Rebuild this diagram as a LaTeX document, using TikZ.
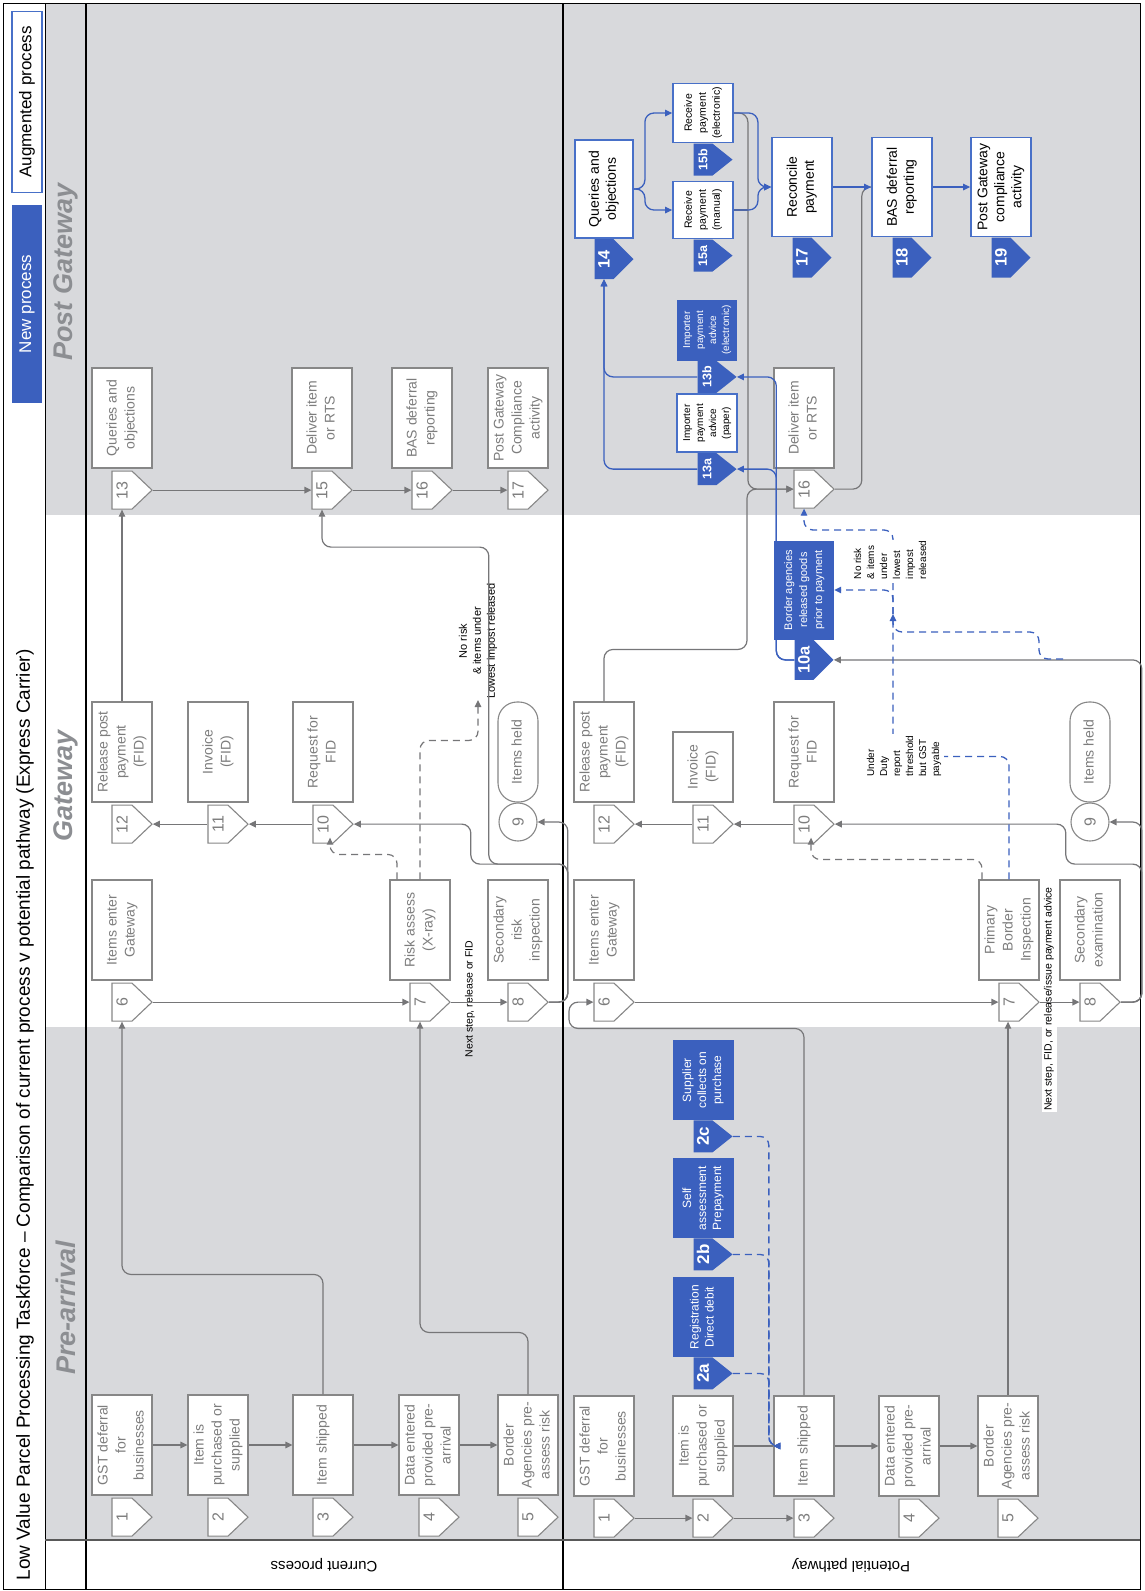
\documentclass[tikz,border=0pt]{standalone}
\usepackage{fontspec}
\setmainfont{Liberation Sans}
\usepackage{graphicx}
\usetikzlibrary{arrows.meta,shapes.symbols,positioning,calc}
\definecolor{newblue}{RGB}{59,96,190}
\definecolor{augblue}{RGB}{72,112,200}
\definecolor{bandgray}{RGB}{216,217,220}
\definecolor{boxgray}{RGB}{135,135,135}
\definecolor{txtgray}{RGB}{125,125,125}
\definecolor{flowgray}{RGB}{118,118,120}
\definecolor{headgray}{RGB}{140,142,146}
\newcommand{\vt}[1]{\rotatebox{90}{\begin{tabular}{@{}c@{}}#1\end{tabular}}}
\newcommand{\vtl}[1]{\rotatebox{90}{\begin{tabular}{@{}l@{}}#1\end{tabular}}}
\begin{document}
\begin{tikzpicture}[x=1pt,y=-1pt,>={Triangle[length=7pt,width=6.5pt]},
  curbox/.style={draw=boxgray,line width=1.1pt,fill=white,text=txtgray,minimum width=60pt,minimum height=100pt,inner sep=0pt,font=\fontsize{14}{18}\selectfont},
  augbox/.style={draw=augblue,line width=1.8pt,fill=white,text=black,minimum width=60pt,minimum height=99pt,inner sep=0pt,font=\fontsize{14}{17}\selectfont},
  newbox/.style={fill=newblue,text=white,minimum width=61pt,minimum height=80pt,inner sep=0pt,font=\fontsize{12}{15}\selectfont},
  curtag/.style={shape=signal,signal from=nowhere,signal to=east,signal pointer angle=87,draw=boxgray,line width=1.1pt,fill=white,text=txtgray,minimum width=40pt,minimum height=38pt,inner sep=0pt,font=\fontsize{16}{16}\selectfont},
  newtag/.style={shape=signal,signal from=nowhere,signal to=east,signal pointer angle=90,fill=newblue,text=white,minimum width=39pt,minimum height=40pt,inner sep=0pt,font=\bfseries\fontsize{16.5}{17}\selectfont},
  smalltag/.style={newtag,signal pointer angle=77,minimum height=32pt,font=\bfseries\fontsize{12.5}{13}\selectfont},
  flow/.style={color=flowgray,line width=1.2pt,rounded corners=9pt,->},
  gline/.style={color=flowgray,line width=1.2pt,rounded corners=9pt},
  dflow/.style={flow,dash pattern=on 7pt off 5pt},
  bflow/.style={color=newblue,line width=1.3pt,rounded corners=9pt,->},
  bdflow/.style={bflow,dash pattern=on 7pt off 5pt},
  bdline/.style={color=newblue,line width=1.3pt,rounded corners=9pt,dash pattern=on 7pt off 5pt},
  lbl/.style={text=black,inner sep=1pt,font=\fontsize{10.5}{13}\selectfont},
  phase/.style={text=headgray,font=\bfseries\itshape\fontsize{27}{27}\selectfont}]
  \useasboundingbox (0,0) rectangle (1144,1591);
  \fill[white] (0,0) rectangle (1144,1591);
  \fill[bandgray] (45,3) rectangle (1140,515);
  \fill[bandgray] (45,1027) rectangle (1140,1540);
  \draw[line width=1pt] (3,3) rectangle (1140,1589);
  \draw[line width=1pt] (45,3) -- (45,1589);
  \draw[line width=2pt] (86,3) -- (86,1589);
  \draw[line width=2pt] (563,3) -- (563,1589);
  \draw[line width=2pt,black!65] (45,1540) -- (1140,1540);

  % title, legend, phases, rows
  \node[anchor=south,font=\fontsize{19}{19}\selectfont] (title) at (25,1584) {\rotatebox{90}{Low Value Parcel Processing Taskforce \textendash{} Comparison of current process v potential pathway (Express Carrier)}};
  \node[draw=augblue,line width=1.2pt,fill=white,minimum width=30pt,minimum height=181pt,inner sep=0pt,font=\fontsize{17}{17}\selectfont] (legaug) at (27,102) {\rotatebox{90}{Augmented process}};
  \node[fill=newblue,text=white,minimum width=30pt,minimum height=198pt,inner sep=0pt,font=\fontsize{17}{17}\selectfont] (legnew) at (27,304) {\rotatebox{90}{New process}};
  \node[phase] (hpost) at (66,272) {\rotatebox{90}{Post Gateway}};
  \node[phase] (hgate) at (66,786) {\rotatebox{90}{Gateway}};
  \node[phase] (hpre) at (66,1308) {\rotatebox{90}{Pre-arrival}};
  \node[font=\fontsize{15}{15}\selectfont] (rowcur) at (324,1565) {\rotatebox{180}{Current process}};
  \node[font=\fontsize{15}{15}\selectfont] (rowpot) at (851,1565) {\rotatebox{180}{Potential pathway}};

  % current process
  \node[curbox] (c1) at (122,1445) {\vt{GST deferral\\for\\businesses}};
  \node[curbox] (c2) at (218,1445) {\vt{Item is\\purchased or\\supplied}};
  \node[curbox] (c3) at (323,1445) {\vt{Item shipped}};
  \node[curbox] (c4) at (429,1445) {\vt{Data entered\\provided pre-\\arrival}};
  \node[curbox] (c5) at (528,1445) {\vt{Border\\Agencies pre-\\assess risk}};
  \node[curbox] (c6) at (122,930) {\vt{Items enter\\Gateway}};
  \node[curbox] (c7) at (420,930) {\vt{Risk assess\\(X-ray)}};
  \node[curbox] (c8) at (518,930) {\vt{Secondary\\risk\\inspection}};
  \node[curbox] (c12) at (122,752) {\vt{Release post\\payment\\(FID)}};
  \node[curbox] (c11) at (218,752) {\vt{Invoice\\(FID)}};
  \node[curbox] (c10) at (323,752) {\vt{Request for\\FID}};
  \node[curbox,minimum width=40pt,rounded corners=19pt] (chold) at (518,752) {\vt{Items held}};
  \node[curbox,circle,minimum width=38pt,minimum height=38pt,font=\fontsize{16}{16}\selectfont] (c9) at (518,822) {\rotatebox{90}{9}};
  \node[curbox] (c13) at (122,418) {\vt{Queries and\\objections}};
  \node[curbox] (c15) at (322,418) {\vt{Deliver item\\or RTS}};
  \node[curbox] (c16) at (422,418) {\vt{BAS deferral\\reporting}};
  \node[curbox] (c17) at (518,418) {\vt{Post Gateway\\Compliance\\activity}};
  \node[curtag,below=2pt of c1] (t1) {\rotatebox{90}{1}};
  \node[curtag,below=2pt of c2] (t2) {\rotatebox{90}{2}};
  \node[curtag,below=2pt of c3] (t3) {\rotatebox{90}{3}};
  \node[curtag,below=2pt of c4] (t4) {\rotatebox{90}{4}};
  \node[curtag,below=2pt of c5] (t5) {\rotatebox{90}{5}};
  \node[curtag,below=2pt of c6] (t6) {\rotatebox{90}{6}};
  \node[curtag,below=2pt of c7] (t7) {\rotatebox{90}{7}};
  \node[curtag,below=2pt of c8] (t8) {\rotatebox{90}{8}};
  \node[curtag,below=2pt of c10] (t10) {\rotatebox{90}{10}};
  \node[curtag,below=2pt of c11] (t11) {\rotatebox{90}{11}};
  \node[curtag,below=2pt of c12] (t12) {\rotatebox{90}{12}};
  \node[curtag,below=2pt of c13] (t13) {\rotatebox{90}{13}};
  \node[curtag,below=2pt of c15] (t15) {\rotatebox{90}{15}};
  \node[curtag,below=2pt of c16] (t16) {\rotatebox{90}{16}};
  \node[curtag,below=2pt of c17] (t17) {\rotatebox{90}{17}};

  % potential pathway
  \node[curbox] (p1) at (604,1446) {\vt{GST deferral\\for\\businesses}};
  \node[curbox] (p2) at (703,1446) {\vt{Item is\\purchased or\\supplied}};
  \node[curbox] (p3) at (804,1446) {\vt{Item shipped}};
  \node[curbox] (p4) at (909,1446) {\vt{Data entered\\provided pre-\\arrival}};
  \node[curbox] (p5) at (1008,1446) {\vt{Border\\Agencies pre-\\assess risk}};
  \node[newbox] (p2a) at (703,1317) {\vt{Registration\\Direct debit}};
  \node[newbox] (p2b) at (703,1198) {\vt{Self\\assessment\\Prepayment}};
  \node[newbox] (p2c) at (703,1080) {\vt{Supplier\\collects on\\purchase}};
  \node[curbox] (p6) at (604,930) {\vt{Items enter\\Gateway}};
  \node[curbox] (p7) at (1009,930) {\vt{Primary\\Border\\Inspection}};
  \node[curbox] (p8) at (1090,930) {\vt{Secondary\\examination}};
  \node[curbox] (p12) at (604,752) {\vt{Release post\\payment\\(FID)}};
  \node[curbox,minimum height=70pt] (p11) at (703,767) {\vt{Invoice\\(FID)}};
  \node[curbox] (p10) at (804,752) {\vt{Request for\\FID}};
  \node[curbox,minimum width=40pt,rounded corners=19pt] (phold) at (1090,752) {\vt{Items held}};
  \node[curbox,circle,minimum width=38pt,minimum height=38pt,font=\fontsize{16}{16}\selectfont] (p9) at (1090,822) {\rotatebox{90}{9}};
  \node[newbox,minimum width=60pt,minimum height=99pt,font=\fontsize{11}{15}\selectfont] (p10a) at (804,590) {\vt{Border agencies\\released goods\\prior to payment}};
  \node[curbox] (p16) at (804,418) {\vt{Deliver item\\or RTS}};
  \node[augbox,minimum height=58pt,font=\fontsize{10}{13}\selectfont] (p13a) at (707,423) {\vt{Importer\\payment\\advice\\(paper)}};
  \node[newbox,minimum width=60pt,minimum height=61pt,font=\fontsize{10}{13}\selectfont] (p13b) at (707,330) {\vt{Importer\\payment\\advice\\(electronic)}};
  \node[augbox,minimum width=58pt,minimum height=98pt] (p14) at (604,189) {\vt{Queries and\\objections}};
  \node[augbox,minimum height=59pt,font=\fontsize{10.5}{14}\selectfont] (p15b) at (703,113) {\vt{Receive\\payment\\(electronic)}};
  \node[augbox,minimum height=57pt,font=\fontsize{10.5}{14}\selectfont] (p15a) at (703,210) {\vt{Receive\\payment\\(manual)}};
  \node[augbox] (p17) at (802,187) {\vt{Reconcile\\payment}};
  \node[augbox] (p18) at (902,187) {\vt{BAS deferral\\reporting}};
  \node[augbox] (p19) at (1001,187) {\vt{Post Gateway\\compliance\\activity}};
  \node[curtag,below=2pt of p1] (pt1) {\rotatebox{90}{1}};
  \node[curtag,below=2pt of p2] (pt2) {\rotatebox{90}{2}};
  \node[curtag,below=2pt of p3] (pt3) {\rotatebox{90}{3}};
  \node[curtag,below=2pt of p4] (pt4) {\rotatebox{90}{4}};
  \node[curtag,below=2pt of p5] (pt5) {\rotatebox{90}{5}};
  \node[curtag,below=2pt of p6] (pt6) {\rotatebox{90}{6}};
  \node[curtag,below=2pt of p7] (pt7) {\rotatebox{90}{7}};
  \node[curtag,below=2pt of p8] (pt8) {\rotatebox{90}{8}};
  \node[curtag,below=2pt of p10] (pt10) {\rotatebox{90}{10}};
  \node[curtag,below=2pt of p11] (pt11) {\rotatebox{90}{11}};
  \node[curtag,below=2pt of p12] (pt12) {\rotatebox{90}{12}};
  \node[curtag,below=1pt of p16] (pt16) {\rotatebox{90}{16}};
  \node[smalltag,below=0pt of p2a,font=\bfseries\fontsize{17}{17}\selectfont] (pt2a) {\rotatebox{90}{2a}};
  \node[smalltag,below=0pt of p2b,font=\bfseries\fontsize{17}{17}\selectfont] (pt2b) {\rotatebox{90}{2b}};
  \node[smalltag,below=0pt of p2c,font=\bfseries\fontsize{17}{17}\selectfont] (pt2c) {\rotatebox{90}{2c}};
  \node[newtag,below=0pt of p10a] (pt10a) {\rotatebox{90}{10a}};
  \node[smalltag,below=0pt of p13a] (pt13a) {\rotatebox{90}{13a}};
  \node[smalltag,below=0pt of p13b] (pt13b) {\rotatebox{90}{13b}};
  \node[newtag,below=0pt of p14] (pt14) {\rotatebox{90}{14}};
  \node[smalltag,below=0pt of p15b] (pt15b) {\rotatebox{90}{15b}};
  \node[smalltag,below=0pt of p15a] (pt15a) {\rotatebox{90}{15a}};
  \node[newtag,below=0pt of p17] (pt17) {\rotatebox{90}{17}};
  \node[newtag,below=0pt of p18] (pt18) {\rotatebox{90}{18}};
  \node[newtag,below=0pt of p19] (pt19) {\rotatebox{90}{19}};

  % labels under the lines
  \node[lbl] (cnext) at (470,999) {\vt{Next step, release or FID}};
  \node[lbl,fill=white] (pnext) at (1049,999) {\vt{Next step, FID, or release/issue payment advice}};
  \node[lbl,anchor=south,font=\fontsize{11}{14}\selectfont] (nrisk) at (478,700) {\vt{No risk\\\& items under\\Lowest impost released}};

  % current process flows
  \draw[flow] (c1) -- (c2);
  \draw[flow] (c2) -- (c3);
  \draw[flow] (c3) -- (c4);
  \draw[flow] (c4) -- (c5);
  \draw[flow] (c3.north) -- ++(0,-120) -| (t6.south);
  \draw[flow] (c5.north) -- ++(0,-62) -| (t7.south);
  \draw[flow] (t6.east) -- (t7.west);
  \draw[flow] (t7.east) -- (t8.west);
  \draw[flow] (t8.east) -- ++(19,0) |- (c9.east);
  \draw[flow] (t8.east) -- ++(19,0) -- ++(0,-138) -- ++(-97,0) |- (t10.east);
  \draw[flow] (t8.east) -- ++(19,0) -- ++(0,-138) -- ++(-79,0) -- ++(0,-317) -| (t15.south);
  \draw[flow] (t10.west) -- (t11.east);
  \draw[flow] (t11.west) -- (t12.east);
  \draw[flow] (c12.north) -- (t13.south);
  \draw[flow] (t13.east) -- (t15.west);
  \draw[flow] (t15.east) -- (t16.west);
  \draw[flow] (t16.east) -- (t17.west);
  \draw[dflow] ([xshift=-23pt]c7.north) -- ++(0,-25) -| ([xshift=7pt,yshift=6pt]t10.south);
  \draw[dflow] (c7.north) -- ++(0,-139) -| (nrisk.south);

  % potential pathway flows
  \draw[flow] (pt1.east) -- (pt2.west);
  \draw[flow] (pt2.east) -- (pt3.west);
  \draw[gline] (p2) -- (p3);
  \draw[flow] (p3) -- (p4);
  \draw[flow] (p4) -- (p5);
  \draw[bdflow] (pt2c.east) -- ++(36,0) |- (p3.west);
  \draw[bdflow] (pt2b.east) -- ++(36,0) |- (p3.west);
  \draw[bdflow] (pt2a.east) -- ++(36,0) |- (p3.west);
  \draw[flow] (p3.north) -- ++(0,-367) -- ++(-235,0) |- (pt6.west);
  \draw[flow] (p5.north) -- (p5.north |- pt7.south);
  \draw[flow] (pt6.east) -- (pt7.west);
  \draw[flow] (pt7.east) -- (pt8.west);
  \draw[flow] (pt8.east) -- ++(21,0) |- (p9.east);
  \draw[flow] (pt8.east) -- ++(21,0) -- ++(0,-138) -- ++(-76,0) |- (pt10.east);
  \draw[flow] (pt8.east) -- ++(21,0) |- (pt10a.east);
  \draw[flow] (pt10.west) -- (pt11.east);
  \draw[flow] (pt11.west) -- (pt12.east);
  \draw[flow] (p12.north) -- ++(0,-52) -- ++(143,0) |- (pt16.west);
  \draw[flow] (p15b.east) -- ++(14,0) |- (pt16.west);
  \draw[gline] (p15a.east) -- ++(14,0);
  \draw[gline] (pt16.east) -- ++(27,0) |- (p18.west);
  \draw[dflow] ([xshift=-27pt]p7.north) -- ++(0,-20) -| ([xshift=7pt,yshift=6pt]pt10.south);
  \coordinate (bjoin) at (893,614);
  \coordinate (bsplit) at (1063,659);
  \draw[bdflow] (p7.north) -- ++(0,-123) -| (bjoin);
  \draw[bdline] (bsplit) -- ++(-24,0) -- ++(0,-27) -| (bjoin);
  \draw[bdflow] (bjoin) |- (p10a.east);
  \draw[bdflow] (bjoin) -- ++(0,-84) -| (pt16.south);
  \draw[bflow] (pt10a.west) -- ++(-18,0) |- (pt13a.east);
  \draw[bflow] (pt10a.west) -- ++(-18,0) |- (pt13b.east);
  \draw[bflow] (pt13a.west) -| (pt14.south);
  \draw[bflow] (pt13b.west) -| (pt14.south);
  \draw[bflow] (p14.east) -- ++(11,0) |- (p15b.west);
  \draw[bflow] (p14.east) -- ++(11,0) |- (p15a.west);
  \draw[bflow] (p15b.east) -- ++(24,0) |- (p17.west);
  \draw[bflow] (p15a.east) -- ++(24,0) |- (p17.west);
  \draw[bflow] (p17) -- (p18);
  \draw[bflow] (p18) -- (p19);

  % labels over the lines
  \node[lbl,fill=white,font=\fontsize{10}{13}\selectfont] (uduty) at (904,756) {\vtl{Under\\Duty\\report\\threshold\\but GST\\payable}};
  \node[lbl,fill=white,font=\fontsize{10}{13}\selectfont] (pnrisk) at (891,560) {\vtl{No risk\\\& items\\under\\lowest\\impost\\released}};
\end{tikzpicture}
\end{document}
